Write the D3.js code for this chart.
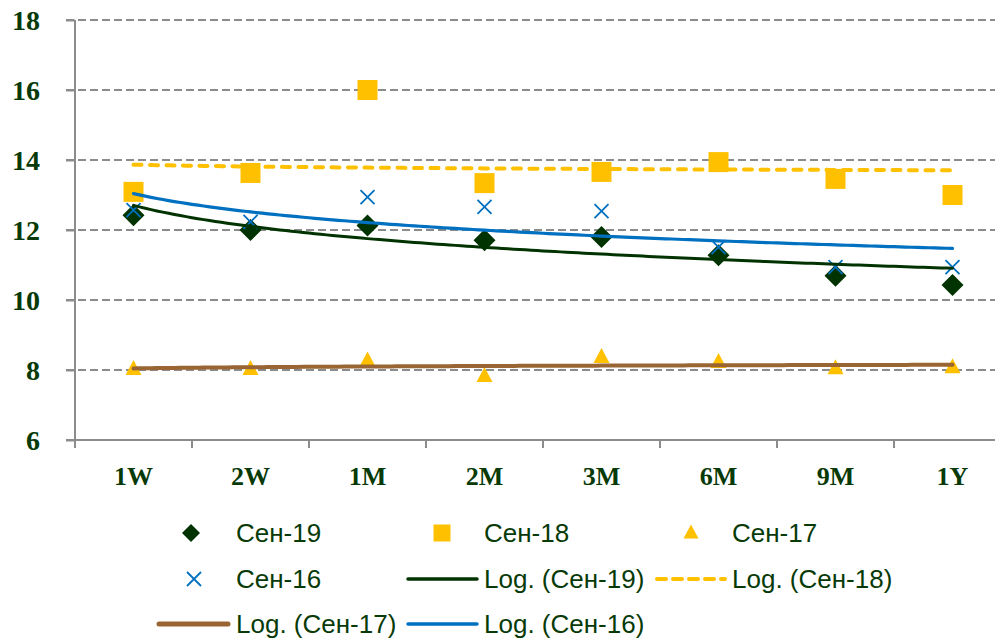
<!DOCTYPE html>
<html><head><meta charset="utf-8">
<script src="https://cdn.jsdelivr.net/npm/d3@7/dist/d3.min.js"></script>
<style>html,body{margin:0;padding:0;background:#fff;overflow:hidden}</style>
</head><body><svg id="c" width="995" height="639"></svg>
<script>
const categories = ["1W","2W","1M","2M","3M","6M","9M","1Y"];
const sen19 = [12.42,12.0,12.13,11.71,11.8,11.28,10.69,10.43];
const sen18 = [13.09,13.63,16.0,13.34,13.66,13.94,13.46,13.0];
const sen17 = [8.03,8.03,8.27,7.83,8.37,8.23,8.05,8.08];
const sen16 = [12.57,12.23,12.94,12.66,12.54,11.51,10.94,10.94];
const yTicks = [6,8,10,12,14,16,18];
const seriesNames = ["Сен-19","Сен-18","Сен-17","Сен-16"];
const trendNames = ["Log. (Сен-19)","Log. (Сен-18)","Log. (Сен-17)","Log. (Сен-16)"];

const cGreen = "#003300", cYellow = "#FFC000", cBlue = "#0070C0", cBrown = "#996633";
const textColor = "#073a07";
const svg = d3.select("#c");

const x = d3.scaleBand().domain(categories).range([75, 1011]).padding(0);
const y = d3.scaleLinear().domain([6, 18]).range([440, 20]);
const cx = d => x(d) + x.bandwidth() / 2;

// gridlines
svg.append("g").selectAll("line").data(yTicks.filter(t => t > 6)).join("line")
  .attr("x1", 66).attr("x2", 995).attr("y1", d => y(d)).attr("y2", d => y(d))
  .attr("stroke", "#8c8c8c").attr("stroke-width", 2).attr("stroke-dasharray", "8,4");

// y axis
const yAxis = svg.append("g").attr("transform", "translate(75,0)")
  .call(d3.axisLeft(y).tickValues(yTicks).tickSize(9).tickPadding(26).tickFormat(d3.format("d")));
yAxis.select(".domain").remove();
yAxis.selectAll(".tick line").attr("stroke", "#8c8c8c").attr("stroke-width", 2);
yAxis.selectAll(".tick text").attr("font-family", "Liberation Serif, serif").attr("font-size", 28)
  .attr("font-weight", "bold").attr("fill", textColor).attr("dy", "0.34em");
svg.append("line").attr("x1", 75).attr("x2", 75).attr("y1", 20).attr("y2", 448)
  .attr("stroke", "#8c8c8c").attr("stroke-width", 2);

// x axis
const xAxis = svg.append("g").attr("transform", "translate(0,440)")
  .call(d3.axisBottom(x).tickSize(0).tickPadding(45));
xAxis.select(".domain").remove();
xAxis.selectAll(".tick text").attr("font-family", "Liberation Serif, serif").attr("font-size", 26)
  .attr("font-weight", "bold").attr("fill", textColor).attr("dy", "0");
svg.append("line").attr("x1", 66).attr("x2", 995).attr("y1", 440).attr("y2", 440)
  .attr("stroke", "#8c8c8c").attr("stroke-width", 2);
svg.append("g").selectAll("line").data(categories).join("line")
  .attr("x1", d => x(d)).attr("x2", d => x(d)).attr("y1", 440).attr("y2", 448)
  .attr("stroke", "#8c8c8c").attr("stroke-width", 2);

// symbols
const diamond = s => `M0,${-s/2}L${s/2},0L0,${s/2}L${-s/2},0Z`;
const square = s => `M${-s/2},${-s/2}h${s}v${s}h${-s}Z`;
const tri = (w,h) => `M0,${-h*0.6}L${w/2},${h*0.4}L${-w/2},${h*0.4}Z`;
const cross = s => `M${-s/2},${-s/2}L${s/2},${s/2}M${s/2},${-s/2}L${-s/2},${s/2}`;

const marks = svg.append("g");
marks.selectAll(".d").data(sen19).join("path").attr("class","d")
  .attr("d", diamond(22)).attr("fill", cGreen)
  .attr("transform", (d,i) => `translate(${cx(categories[i])},${y(d)})`);
marks.selectAll(".s").data(sen18).join("path").attr("class","s")
  .attr("d", square(20)).attr("fill", cYellow)
  .attr("transform", (d,i) => `translate(${cx(categories[i])},${y(d)})`);
marks.selectAll(".t").data(sen17).join("path").attr("class","t")
  .attr("d", tri(16,15)).attr("fill", cYellow)
  .attr("transform", (d,i) => `translate(${cx(categories[i])},${y(d)})`);
marks.selectAll(".x").data(sen16).join("path").attr("class","x")
  .attr("d", cross(14)).attr("fill", "none").attr("stroke", cBlue).attr("stroke-width", 1.8)
  .attr("transform", (d,i) => `translate(${cx(categories[i])},${y(d)})`);

// logarithmic trendlines (least squares fit of y = a ln(x) + b)
function logFit(vals) {
  const lx = vals.map((v,i) => Math.log(i+1));
  const mx = d3.mean(lx), my = d3.mean(vals);
  let sxy = 0, sxx = 0;
  lx.forEach((l,i) => { sxy += (l-mx)*(vals[i]-my); sxx += (l-mx)*(l-mx); });
  const a = sxy / sxx, b = my - a*mx;
  return t => a*Math.log(t) + b;
}
const xt = d3.scaleLinear().domain([1, categories.length]).range([cx(categories[0]), cx(categories[categories.length-1])]);
const ts = d3.range(1, categories.length + 0.0001, 0.05);
const line = d3.line().x(d => xt(d[0])).y(d => y(d[1]));
const trends = [
  {vals: sen19, color: cGreen, w: 3, dash: null},
  {vals: sen18, color: cYellow, w: 4, dash: "8,8.5"},
  {vals: sen17, color: cBrown, w: 4, dash: null},
  {vals: sen16, color: cBlue, w: 3.2, dash: null}
];
trends.forEach(tr => {
  const f = logFit(tr.vals);
  const p = svg.append("path").attr("d", line(ts.map(t => [t, f(t)])))
    .attr("fill", "none").attr("stroke", tr.color).attr("stroke-width", tr.w)
    .attr("stroke-linecap", "round");
  if (tr.dash) p.attr("stroke-dasharray", tr.dash);
});

// legend
const lg = svg.append("g").attr("font-family", "Liberation Sans, Arial, sans-serif")
  .attr("font-size", 26).attr("fill", textColor);
const legendItems = [
  {name: seriesNames[0], type: "diamond", color: cGreen, mx: 191, tx: 236, row: 0},
  {name: seriesNames[1], type: "square", color: cYellow, mx: 442, tx: 484, row: 0},
  {name: seriesNames[2], type: "tri", color: cYellow, mx: 691, tx: 732, row: 0},
  {name: seriesNames[3], type: "cross", color: cBlue, mx: 194, tx: 236, row: 1},
  {name: trendNames[0], type: "line", color: cGreen, lx: [408,477], w: 3.5, tx: 484, row: 1},
  {name: trendNames[1], type: "dash", color: cYellow, lx: [657,725], w: 4, tx: 732, row: 1},
  {name: trendNames[2], type: "line", color: cBrown, lx: [159,228], w: 5, tx: 236, row: 2},
  {name: trendNames[3], type: "line", color: cBlue, lx: [408,477], w: 3.5, tx: 484, row: 2}
];
const rowY = [533, 579, 624];
legendItems.forEach(it => {
  const yy = rowY[it.row];
  if (it.type === "diamond") lg.append("path").attr("d", diamond(18)).attr("fill", it.color).attr("transform", `translate(${it.mx},${yy})`);
  if (it.type === "square") lg.append("path").attr("d", square(17)).attr("fill", it.color).attr("transform", `translate(${it.mx},${yy})`);
  if (it.type === "tri") lg.append("path").attr("d", tri(15,14)).attr("fill", it.color).attr("transform", `translate(${it.mx},${yy})`);
  if (it.type === "cross") lg.append("path").attr("d", cross(14)).attr("fill", "none").attr("stroke", it.color).attr("stroke-width", 1.8).attr("transform", `translate(${it.mx},${yy})`);
  if (it.type === "line" || it.type === "dash") {
    const l = lg.append("line").attr("x1", it.lx[0]).attr("x2", it.lx[1]).attr("y1", yy).attr("y2", yy)
      .attr("stroke", it.color).attr("stroke-width", it.w).attr("stroke-linecap", "round");
    if (it.type === "dash") l.attr("stroke-dasharray", "9,7");
  }
  lg.append("text").attr("x", it.tx).attr("y", yy).attr("dy", "0.36em").text(it.name);
});
</script></body></html>
